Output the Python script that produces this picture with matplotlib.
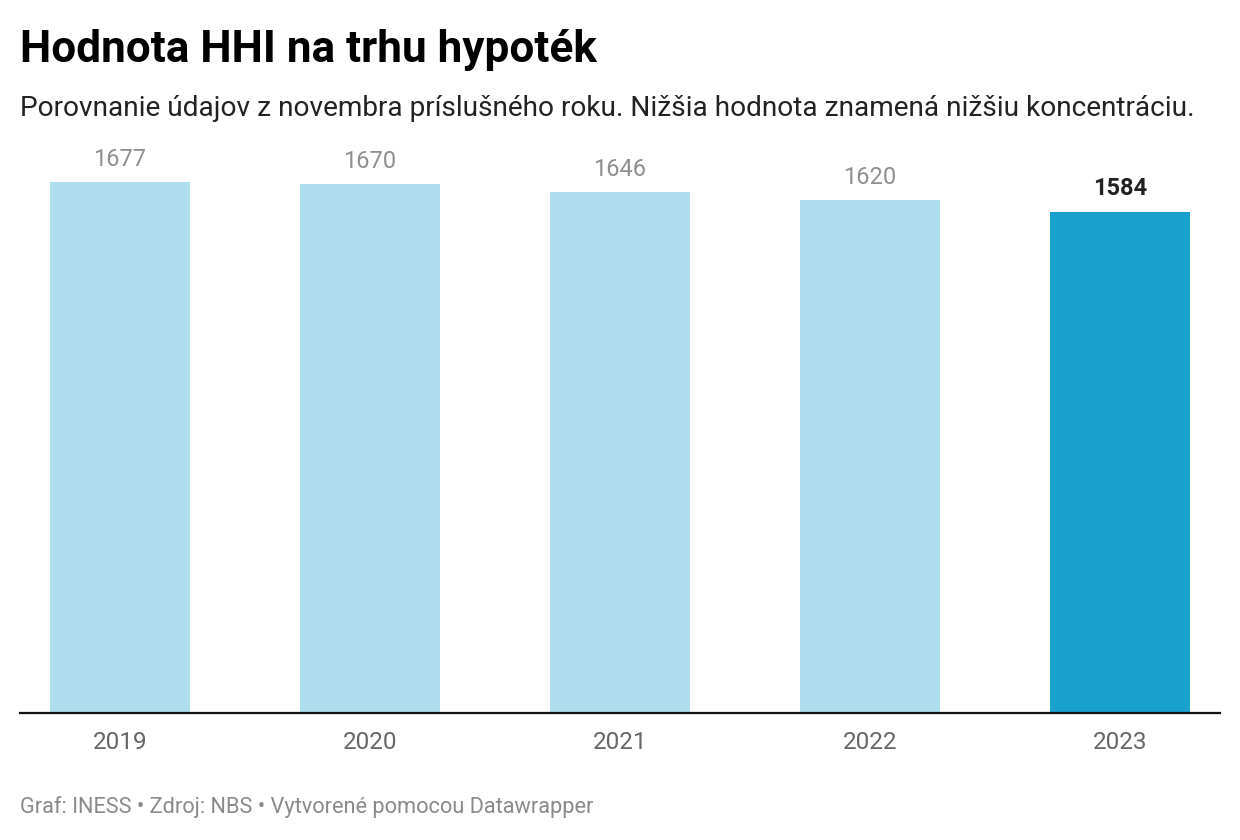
import matplotlib.pyplot as plt

years = ['2019', '2020', '2021', '2022', '2023']
values = [1677, 1670, 1646, 1620, 1584]
colors = ['#aedeed', '#aedeed', '#aedeed', '#aedeed', '#18a1cd']

plt.rcParams['font.family'] = ['Roboto', 'DejaVu Sans']

fig = plt.figure(figsize=(12.4, 8.4), dpi=100)
ax = fig.add_axes([20 / 1240, 127 / 840, 1200 / 1240, 573 / 840])

x = list(range(len(years)))
ax.bar(x, values, width=0.56, color=colors)
ax.set_xlim(-0.4, len(years) - 0.6)
ax.set_ylim(0, 1810)

for i, v in enumerate(values):
    last = i == len(values) - 1
    ax.annotate(str(v), (i, v), xytext=(0, 8), textcoords='offset points',
                ha='center', va='bottom', fontsize=17,
                color='#222222' if last else '#8f8f8f',
                fontweight='bold' if last else 'normal')

ax.set_xticks(x)
ax.set_xticklabels(years, fontsize=17.5, color='#666666')
ax.tick_params(axis='x', length=0, pad=13)
ax.set_yticks([])
for s in ['top', 'right', 'left']:
    ax.spines[s].set_visible(False)
ax.spines['bottom'].set_color('#111111')
ax.spines['bottom'].set_linewidth(1.6)

fig.text(20 / 1240, 1 - 62 / 840, 'Hodnota HHI na trhu hypoték',
         fontsize=31.8, fontweight='bold', color='#000000', va='baseline')
fig.text(20 / 1240, 1 - 116 / 840,
         'Porovnanie údajov z novembra príslušného roku. Nižšia hodnota znamená nižšiu koncentráciu.',
         fontsize=20.2, color='#222222', va='baseline')
fig.text(20 / 1240, 1 - 813 / 840,
         'Graf: INESS • Zdroj: NBS • Vytvorené pomocou Datawrapper',
         fontsize=15.7, color='#8a8a8a', va='baseline')

fig.savefig('out.png', dpi=100, facecolor='white')
